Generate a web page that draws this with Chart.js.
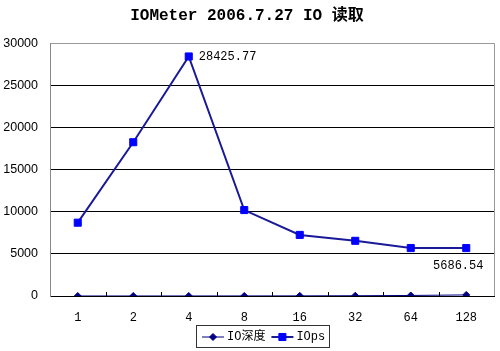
<!doctype html>
<html lang="zh">
<head>
  <meta charset="utf-8">
  <title>IOMeter 2006.7.27 IO 读取</title>
  <script src="https://cdn.jsdelivr.net/npm/chart.js@4.4.1/dist/chart.umd.min.js"></script>
  <style>
    html, body { margin: 0; padding: 0; background: #fff; }
    #wrap { width: 500px; height: 351px; }
  </style>
</head>
<body>
  <div id="wrap"><canvas id="myChart" width="500" height="351"></canvas></div>
  <script>
// chart data
var depthLabels = ["1", "2", "4", "8", "16", "32", "64", "128"];
var ioDepth = [1, 2, 4, 8, 16, 32, 64, 128];
var iops = [8700, 18250, 28425.77, 10200, 7250, 6550, 5686.54, 5686.54];
var yTicks = { min: 0, max: 30000, step: 5000 };
var labelled = [{ index: 2, text: "28425.77", pos: "right" }, { index: 7, text: "5686.54", pos: "below" }];

var mono = '"Liberation Mono", "Noto Sans CJK SC", monospace';
var sans = '"Liberation Sans", Arial, sans-serif';

// plot frame, inner x ticks, point labels and the boxed legend
var extras = {
  id: "extras",
  afterDatasetsDraw: function(chart) {
    var c = chart.ctx, a = chart.chartArea, xs = chart.scales.x;
    c.save();
    c.strokeStyle = "#999";
    c.lineWidth = 1;
    c.beginPath();
    c.moveTo(Math.round(a.right) + 0.5, a.top);
    c.lineTo(Math.round(a.right) + 0.5, a.bottom);
    c.stroke();

    // tick marks between categories, pointing up into the plot
    c.strokeStyle = "#000";
    var half = (xs.getPixelForValue(1) - xs.getPixelForValue(0)) / 2;
    for (var i = 1; i < depthLabels.length; i++) {
      var tx = Math.round(xs.getPixelForValue(i) - half) + 0.5;
      c.beginPath();
      c.moveTo(tx, a.bottom);
      c.lineTo(tx, a.bottom - 4);
      c.stroke();
    }

    // value labels
    var meta = chart.getDatasetMeta(1);
    c.fillStyle = "#000";
    c.font = "12px " + mono;
    c.textBaseline = "middle";
    labelled.forEach(function(l) {
      var p = meta.data[l.index];
      if (l.pos === "right") {
        c.textAlign = "left";
        c.fillText(l.text, p.x + 10, p.y);
      } else {
        c.textAlign = "center";
        c.fillText(l.text, p.x - 8, p.y + 18);
      }
    });

    // legend
    var ds = chart.data.datasets;
    c.font = "12px " + mono;
    var lx = 196, ly = 325, lw = 133, lh = 22;
    c.fillStyle = "#fff";
    c.fillRect(lx, ly, lw, lh);
    c.strokeStyle = "#333";
    c.strokeRect(lx + 0.5, ly + 0.5, lw, lh);
    var cy = ly + lh / 2 + 1;
    var x = lx + 6;
    ds.forEach(function(d) {
      c.strokeStyle = d.borderColor;
      c.lineWidth = d.borderWidth;
      c.beginPath();
      c.moveTo(x, cy);
      c.lineTo(x + 22, cy);
      c.stroke();
      c.fillStyle = d.pointBackgroundColor;
      c.strokeStyle = d.pointBorderColor;
      c.lineWidth = 1;
      Chart.helpers.drawPoint(c, {
        pointStyle: d.pointStyle, radius: d.pointRadius, borderWidth: 1
      }, x + 11, cy);
      c.fillStyle = "#000";
      c.textAlign = "left";
      c.fillText(d.label, x + 25, cy);
      x += 25 + c.measureText(d.label).width + 6;
    });
    c.restore();
  }
};

var ctx = document.getElementById("myChart").getContext("2d");
var chart = new Chart(ctx, {
  type: "line",
  data: {
    labels: depthLabels,
    datasets: [
      {
        label: "IO深度",
        data: ioDepth,
        borderColor: "#000080",
        borderWidth: 1,
        pointStyle: "rectRot",
        pointRadius: 3.5,
        pointBackgroundColor: "#000080",
        pointBorderColor: "#000080",
        pointBorderWidth: 1
      },
      {
        label: "IOps",
        data: iops,
        borderColor: "#1a1a99",
        borderWidth: 2,
        pointStyle: "rect",
        pointRadius: 5,
        pointBackgroundColor: "#0000ff",
        pointBorderColor: "#0000ff",
        pointBorderWidth: 1
      }
    ]
  },
  options: {
    responsive: false,
    animation: false,
    layout: { padding: { left: 0, right: 6, top: 0, bottom: 0 } },
    plugins: {
      legend: { display: false },
      tooltip: { enabled: false },
      title: {
        display: true,
        text: "IOMeter 2006.7.27 IO 读取",
        color: "#000",
        font: { family: mono, size: 16, weight: "bold" },
        padding: { top: 6, bottom: 18 }
      }
    },
    scales: {
      x: {
        offset: true,
        grid: { display: false },
        border: { color: "#000" },
        ticks: { color: "#000", font: { family: mono, size: 12 }, padding: 7, maxRotation: 0 },
        afterFit: function(s) { s.height = 55; }
      },
      y: {
        min: yTicks.min,
        max: yTicks.max,
        ticks: {
          stepSize: yTicks.step, color: "#000", font: { family: sans, size: 12.5 }, padding: 12,
          callback: function(v) { return String(v); }
        },
        grid: {
          drawTicks: false,
          color: function(c) { return c.tick && c.tick.value === yTicks.max ? "#999" : "#000"; }
        },
        border: { color: "#888" },
        afterFit: function(s) { s.width = 50; }
      }
    }
  },
  plugins: [extras]
});
  </script>
</body>
</html>
